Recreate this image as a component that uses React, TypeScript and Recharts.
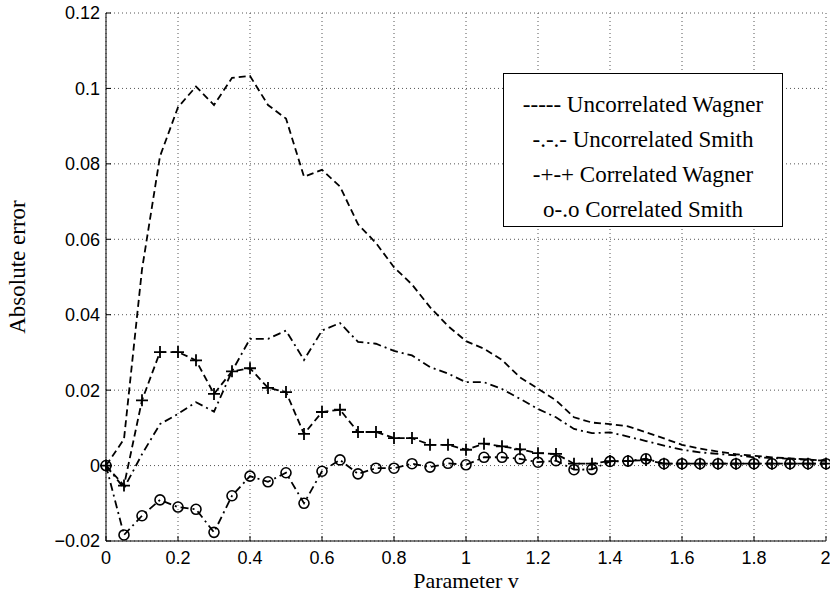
import { CartesianGrid, Legend, Line, LineChart, XAxis, YAxis } from 'recharts';

// parameter v, sampled every 0.05
const params = [
  0, 0.05, 0.1, 0.15, 0.2, 0.25, 0.3, 0.35, 0.4, 0.45, 0.5, 0.55, 0.6, 0.65, 0.7, 0.75, 0.8, 0.85, 0.9, 0.95,
  1, 1.05, 1.1, 1.15, 1.2, 1.25, 1.3, 1.35, 1.4, 1.45, 1.5, 1.55, 1.6, 1.65, 1.7, 1.75, 1.8, 1.85, 1.9, 1.95, 2,
];

const uncorrWagner = [
  0, 0.007, 0.052, 0.082, 0.095, 0.1005, 0.0956, 0.1028, 0.1033, 0.0956, 0.092, 0.0766, 0.0784, 0.074, 0.064,
  0.059, 0.0526, 0.048, 0.042, 0.037, 0.033, 0.031, 0.028, 0.0234, 0.0204, 0.0173, 0.0128, 0.0114, 0.011, 0.0104,
  0.0088, 0.0072, 0.0055, 0.0045, 0.0037, 0.003, 0.0026, 0.0022, 0.0019, 0.0016, 0.0013,
];

const uncorrSmith = [
  0, -0.006, 0.003, 0.011, 0.0137, 0.0168, 0.0143, 0.025, 0.0336, 0.0336, 0.0358, 0.028, 0.0358, 0.0378, 0.0328,
  0.0323, 0.0304, 0.0292, 0.0261, 0.0244, 0.0221, 0.0221, 0.0203, 0.0177, 0.015, 0.0128, 0.0097, 0.0086, 0.0088,
  0.0077, 0.0065, 0.0053, 0.0042, 0.0035, 0.0031, 0.0027, 0.0022, 0.002, 0.0018, 0.0015, 0.0013,
];

const corrWagner = [
  0, -0.0053, 0.0173, 0.0301, 0.0301, 0.0279, 0.019, 0.025, 0.0258, 0.0206, 0.0195, 0.0084, 0.0142, 0.0148, 0.0089,
  0.0089, 0.0073, 0.0073, 0.0055, 0.0055, 0.0042, 0.0058, 0.0051, 0.0043, 0.0033, 0.0031, 0.0005, 0.0005, 0.0012,
  0.0012, 0.0015, 0.0005, 0.0005, 0.0005, 0.0005, 0.0005, 0.0005, 0.0005, 0.0005, 0.0005, 0.0005,
];

const corrSmith = [
  0, -0.0184, -0.0133, -0.0091, -0.011, -0.0116, -0.0177, -0.008, -0.0028, -0.0043, -0.0019, -0.01, -0.0015, 0.0015,
  -0.0022, -0.0007, -0.0007, 0.0005, -0.0004, 0.0006, 0.0002, 0.0022, 0.0022, 0.0018, 0.0009, 0.0013, -0.0011,
  -0.001, 0.0011, 0.0012, 0.0018, 0.0005, 0.0005, 0.0005, 0.0005, 0.0005, 0.0005, 0.0005, 0.0005, 0.0005, 0.0005,
];

const xTicks = [0, 0.2, 0.4, 0.6, 0.8, 1, 1.2, 1.4, 1.6, 1.8, 2];
const yTicks = [-0.02, 0, 0.02, 0.04, 0.06, 0.08, 0.1, 0.12];

const legendLines = [
  '----- Uncorrelated Wagner',
  '-.-.- Uncorrelated Smith',
  '-+-+ Correlated Wagner',
  'o-.o Correlated Smith',
];

const data = params.map((v, i) => ({
  v,
  uw: uncorrWagner[i],
  us: uncorrSmith[i],
  cw: corrWagner[i],
  cs: corrSmith[i],
}));

const SANS = '"Liberation Sans", Arial, sans-serif';
const SERIF = '"Liberation Serif", "Times New Roman", serif';

const fmt = (n: number) => (n < 0 ? '\u2212' + String(-n) : String(n));

function PlusDot(props: any) {
  const { cx, cy } = props;
  if (cx == null || cy == null) return null;
  return (
    <path d={`M${cx - 6},${cy}H${cx + 6}M${cx},${cy - 6}V${cy + 6}`} stroke="#000" strokeWidth={1.8} fill="none" />
  );
}

function CircleDot(props: any) {
  const { cx, cy } = props;
  if (cx == null || cy == null) return null;
  return <circle cx={cx} cy={cy} r={5} stroke="#000" strokeWidth={1.6} fill="none" />;
}

function LegendBox() {
  return (
    <div
      style={{
        boxSizing: 'border-box',
        width: '100%',
        height: '100%',
        border: '1.5px solid #000',
        background: '#fff',
        paddingTop: 13,
        fontFamily: SERIF,
        fontSize: 23,
        lineHeight: '35px',
        textAlign: 'center',
        color: '#000',
      }}
    >
      {legendLines.map((t) => (
        <div key={t}>{t}</div>
      ))}
    </div>
  );
}

export default function App() {
  return (
    <div style={{ position: 'absolute', left: 0, top: 0, background: '#fff' }}>
      <LineChart width={830} height={598} data={data} margin={{ top: 13, right: 4, left: 0, bottom: 0 }}>
        <CartesianGrid stroke="#555" strokeDasharray="1 3" />
        <XAxis
          dataKey="v"
          type="number"
          domain={[0, 2]}
          ticks={xTicks}
          height={57}
          stroke="#000"
          tickSize={-5}
          tickMargin={15}
          tick={{ fill: '#000', fontFamily: SANS, fontSize: 18 }}
          tickFormatter={fmt}
          label={{
            content: ({ viewBox }: any) => (
              <text
                x={viewBox.x + viewBox.width / 2}
                y={viewBox.y + 47}
                textAnchor="middle"
                fontFamily={SERIF}
                fontSize={22}
                fill="#000"
              >
                Parameter v
              </text>
            ),
          }}
        />
        <YAxis
          type="number"
          domain={[-0.02, 0.12]}
          ticks={yTicks}
          width={106}
          stroke="#000"
          tickSize={-5}
          tickMargin={11}
          tick={{ fill: '#000', fontFamily: SANS, fontSize: 18 }}
          tickFormatter={fmt}
          label={{
            content: () => (
              <text
                x={25}
                y={267}
                transform="rotate(-90, 25, 267)"
                textAnchor="middle"
                fontFamily={SERIF}
                fontSize={23}
                fill="#000"
              >
                Absolute error
              </text>
            ),
          }}
        />
        <Legend
          layout="vertical"
          align="center"
          verticalAlign="middle"
          content={() => <LegendBox />}
          wrapperStyle={{ position: 'absolute', left: 503, top: 73, width: 280, height: 154 }}
        />
        <Line
          dataKey="uw"
          stroke="#000"
          strokeWidth={1.8}
          strokeDasharray="7 4"
          dot={false}
          isAnimationActive={false}
        />
        <Line
          dataKey="us"
          stroke="#000"
          strokeWidth={1.8}
          strokeDasharray="8 4 2 4"
          dot={false}
          isAnimationActive={false}
        />
        <Line
          dataKey="cw"
          stroke="#000"
          strokeWidth={1.8}
          strokeDasharray="7 4"
          dot={<PlusDot />}
          isAnimationActive={false}
        />
        <Line
          dataKey="cs"
          stroke="#000"
          strokeWidth={1.8}
          strokeDasharray="8 4 2 4"
          dot={<CircleDot />}
          isAnimationActive={false}
        />
      </LineChart>
    </div>
  );
}
